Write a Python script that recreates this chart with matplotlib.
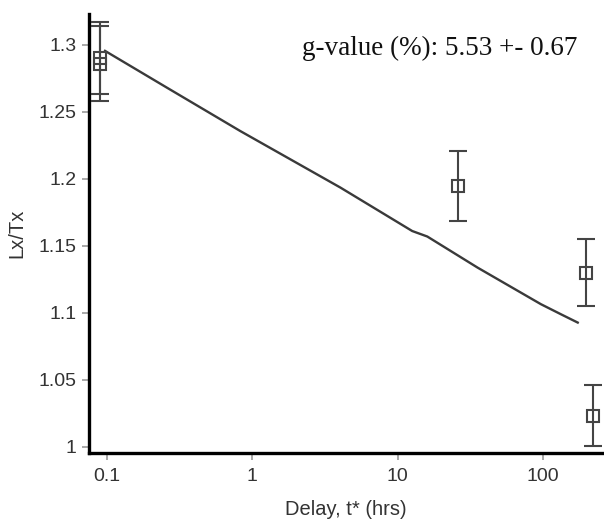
import matplotlib
matplotlib.use("Agg")
import matplotlib.pyplot as plt
from matplotlib.ticker import FixedLocator, NullLocator

# measured points (delay in hours, Lx/Tx, 1-sigma error)
delay = [0.0895, 0.0895, 25.9, 198, 221]
lxtx = [1.290, 1.286, 1.1947, 1.130, 1.0234]
lxtx_err = [0.027, 0.028, 0.026, 0.025, 0.023]

# fitted fading curve
fit_delay = [0.0969, 0.258, 0.826, 4.04, 12.6, 16.0, 35.5, 96.9, 133, 173.5]
fit_lxtx = [1.2955, 1.2681, 1.2357, 1.1935, 1.1611, 1.1570, 1.1338, 1.1065, 1.0990, 1.0928]

y_ticks = [1, 1.05, 1.1, 1.15, 1.2, 1.25, 1.3]
y_labels = ["1", "1.05", "1.1", "1.15", "1.2", "1.25", "1.3"]
x_ticks = [0.1, 1, 10, 100]
x_labels = ["0.1", "1", "10", "100"]

g_text = "g-value (%): 5.53 +- 0.67"

plt.rcParams["font.family"] = ["Liberation Sans", "DejaVu Sans"]

fig = plt.figure(figsize=(6.04, 5.21), dpi=100)
ax = fig.add_axes([89 / 604, 1 - 453 / 521, 514 / 604, 439 / 521])

ax.plot(fit_delay, fit_lxtx, color="#3a3a3a", lw=1.7, zorder=2)
ax.errorbar(delay, lxtx, yerr=lxtx_err, fmt="s", mfc="none", mec="#444444",
            mew=1.5, ms=9, ecolor="#444444", elinewidth=1.5, capsize=6.5,
            capthick=1.5, zorder=3)

ax.set_xscale("log")
ax.set_xlim(0.0752, 259)
ax.set_ylim(0.9955, 1.323)

ax.xaxis.set_major_locator(FixedLocator(x_ticks))
ax.xaxis.set_minor_locator(NullLocator())
ax.set_xticklabels(x_labels)
ax.set_yticks(y_ticks)
ax.set_yticklabels(y_labels)

for side in ["top", "right"]:
    ax.spines[side].set_visible(False)
for side in ["left", "bottom"]:
    ax.spines[side].set_linewidth(2.4)
    ax.spines[side].set_color("black")

ax.tick_params(axis="both", direction="out", length=5, width=1.2,
               color="#999999", labelsize=14, labelcolor="#333333")
ax.tick_params(axis="x", pad=6)
ax.tick_params(axis="y", pad=4)

ax.set_xlabel("Delay, t* (hrs)", fontsize=14.5, color="#333333")
ax.set_ylabel("Lx/Tx", fontsize=14.5, color="#333333")
ax.xaxis.set_label_coords(0.5, -0.108)
ax.yaxis.set_label_coords(-0.122, 0.5)

fig.text(302 / 604, 1 - 55 / 521, g_text, family="Liberation Serif",
         fontsize=19.5, color="#111111", ha="left", va="baseline")

fig.savefig("out.png", dpi=100)
